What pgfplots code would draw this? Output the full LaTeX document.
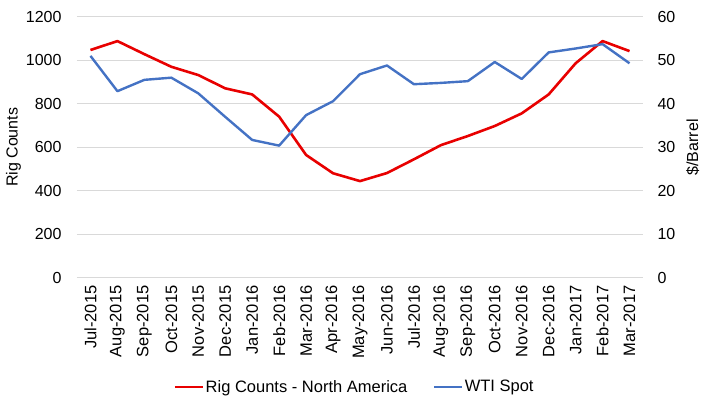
\documentclass[border=0pt]{standalone}
\usepackage{pgfplots}
\pgfplotsset{compat=1.18}
\usepackage{fontspec}
\setmainfont{Liberation Sans}
\definecolor{rigred}{RGB}{232,0,0}
\definecolor{wtiblue}{RGB}{68,114,196}
\definecolor{gridgray}{RGB}{217,217,217}
\pgfplotstableread{
x rig wti
0 1047 51.0
1 1088 42.9
2 1028 45.5
3 970 46.0
4 932 42.4
5 871 37.0
6 843 31.7
7 741 30.4
8 565 37.4
9 481 40.6
10 445 46.8
11 482 48.8
12 545 44.5
13 610 44.8
14 652 45.2
15 698 49.6
16 756 45.7
17 843 51.8
18 986 52.7
19 1088 53.7
20 1042 49.3
}\datatable
\pgfplotsset{
  common/.style={
    scale only axis, width=566pt, height=261.3pt,
    xmin=-0.5, xmax=20.5,
    axis line style={draw=none},
    tick style={draw=none},
    /pgf/number format/assume math mode=true,
    /pgf/number format/1000 sep={},
    ticklabel style={font=\fontsize{16}{19}\selectfont},
    label style={font=\fontsize{16}{19}\selectfont},
  }
}
\begin{document}
\begin{tikzpicture}
\useasboundingbox (-77pt,-118pt) rectangle (630pt,278pt);
\begin{axis}[common,
  ymin=0, ymax=1200, ytick={0,200,...,1200},
  ymajorgrids, grid style={gridgray, line width=1pt},
  xtick={0,...,20},
  xticklabels={Jul-2015,Aug-2015,Sep-2015,Oct-2015,Nov-2015,Dec-2015,Jan-2016,Feb-2016,Mar-2016,Apr-2016,May-2016,Jun-2016,Jul-2016,Aug-2016,Sep-2016,Oct-2016,Nov-2016,Dec-2016,Jan-2017,Feb-2017,Mar-2017},
  xticklabel style={rotate=90, anchor=east, xshift=-4pt, font=\fontsize{16.5}{19}\selectfont},
  yticklabel style={xshift=-12pt},
  ylabel={Rig Counts},
  ylabel style={yshift=-2pt},
]
\addplot[rigred, line width=2.6pt, line join=round] table[x=x, y=rig] {\datatable};
\end{axis}
\begin{axis}[common,
  axis y line*=right,
  ymin=0, ymax=60, ytick={0,10,...,60},
  xtick=\empty,
  yticklabel style={xshift=11pt},
  ylabel={\$/Barrel},
  ylabel style={yshift=-4pt},
  legend style={at={(axis description cs:0.49,-0.417)}, anchor=center, draw=none, fill=none,
    font=\fontsize{16.5}{19}\selectfont, legend columns=2,
    nodes={inner sep=1.5pt},
    /tikz/every even column/.append style={column sep=24pt}},
  legend image code/.code={\draw[#1] (0pt,0pt) -- (28pt,0pt);},
]
\addlegendimage{rigred, line width=2.6pt}
\addlegendentry{Rig Counts - North America}
\addplot[wtiblue, line width=2.4pt, line join=round] table[x=x, y=wti] {\datatable};
\addlegendentry{WTI Spot}
\end{axis}
\end{tikzpicture}
\end{document}
